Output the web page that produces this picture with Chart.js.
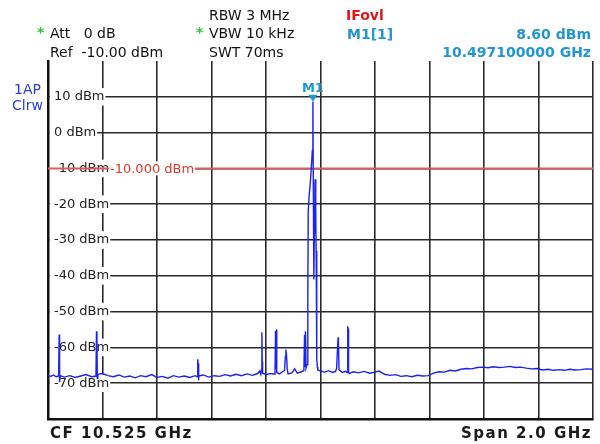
<!DOCTYPE html>
<html>
<head>
<meta charset="utf-8">
<title>Spectrum 10.525 GHz</title>
<script src="https://cdn.jsdelivr.net/npm/chart.js@4.4.1/dist/chart.umd.min.js"></script>
<style>
body{margin:0;background:#fff;}
canvas{display:block;}
</style>
</head>
<body>
<canvas id="spectrum" width="600" height="444"></canvas>
<script>
// trace 1 (Clrw): frequency in GHz, level in dBm
const traceFreq = [
	9.525, 9.535, 9.545, 9.555, 9.564, 9.566, 9.567, 9.568, 9.570, 9.585,
	9.605, 9.625, 9.645, 9.665, 9.685, 9.701, 9.703, 9.7045, 9.706, 9.708,
	9.725, 9.745, 9.765, 9.785, 9.805, 9.825, 9.845, 9.865, 9.885, 9.905,
	9.925, 9.945, 9.965, 9.985, 10.005, 10.025, 10.045, 10.065, 10.073, 10.0745,
	10.076, 10.077, 10.079, 10.095, 10.115, 10.135, 10.155, 10.175, 10.195, 10.215,
	10.235, 10.255, 10.275, 10.295, 10.302, 10.306, 10.309, 10.310, 10.3112, 10.3125,
	10.325, 10.340, 10.358, 10.360, 10.3615, 10.363, 10.3645, 10.375, 10.385, 10.393,
	10.396, 10.398, 10.400, 10.403, 10.406, 10.420, 10.430, 10.440, 10.455, 10.464,
	10.4665, 10.4678, 10.470, 10.4718, 10.4755, 10.4785, 10.480, 10.483, 10.4876, 10.492,
	10.495, 10.4971, 10.499, 10.5005, 10.5025, 10.5045, 10.506, 10.5075, 10.509, 10.5105,
	10.512, 10.5135, 10.515, 10.525, 10.540, 10.555, 10.570, 10.580,
	10.584, 10.587, 10.5895, 10.591, 10.593, 10.605, 10.617, 10.6235, 10.625, 10.6265,
	10.628, 10.630, 10.645, 10.665, 10.685, 10.705, 10.725, 10.740, 10.760, 10.780,
	10.800, 10.820, 10.840, 10.860, 10.880, 10.900, 10.920, 10.940, 10.960, 10.980,
	11.000, 11.020, 11.040, 11.060, 11.080, 11.100, 11.120, 11.140, 11.160, 11.180,
	11.200, 11.220, 11.240, 11.260, 11.280, 11.300, 11.320, 11.340, 11.360, 11.380,
	11.400, 11.420, 11.440, 11.460, 11.480, 11.500, 11.525
];
const traceLevel = [
	-67.8, -68.1, -67.7, -68.2, -68.0, -56.4, -62.0, -69.7, -67.9, -68.3,
	-67.9, -68.4, -68.0, -67.6, -68.2, -68.0, -55.5, -56.5, -68.6, -67.5,
	-67.3, -67.9, -68.2, -67.7, -68.3, -68.0, -68.5, -67.9, -68.2, -67.6,
	-68.4, -68.1, -68.6, -67.9, -68.3, -68.0, -68.4, -67.9, -68.2, -63.3,
	-64.5, -69.2, -68.0, -67.7, -68.3, -67.9, -68.1, -67.6, -68.0, -67.5,
	-67.9, -67.4, -67.8, -67.3, -66.6, -67.5, -66.0, -55.8, -64.0, -67.2,
	-67.6, -67.3, -67.5, -55.4, -66.0, -55.0, -67.0, -67.4, -66.8, -66.5,
	-62.5, -60.6, -62.0, -66.0, -67.4, -67.1, -66.0, -67.2, -66.8, -66.5,
	-56.5, -65.5, -55.5, -65.8, -64.8, -45.0, -22.0, -18.0, -14.0, -9.0,
	-5.0, 8.6, -20.0, -41.0, -28.0, -14.0, -13.0, -22.0, -33.0, -45.0,
	-63.0, -65.5, -66.3, -66.6, -66.9, -66.5, -67.0, -66.7,
	-66.0, -61.0, -57.2, -59.0, -66.2, -67.0, -66.7, -67.0, -54.1, -54.8,
	-66.8, -67.3, -66.8, -67.1, -66.7, -67.2, -66.9, -66.6, -67.5, -67.8,
	-67.6, -68.1, -67.9, -68.2, -67.8, -68.0, -67.9, -67.2, -66.8, -66.9,
	-66.4, -66.6, -66.1, -65.9, -66.0, -65.6, -65.5, -65.7, -65.4, -65.6,
	-65.5, -65.3, -65.6, -65.5, -65.8, -66.0, -65.9, -66.3, -66.1, -66.4,
	-66.2, -66.4, -66.1, -66.3, -66.2, -66.0, -66.1
];

// 10 divisions each way, CF 10.525 GHz / span 2 GHz, ref -10 dBm
const freqTicks = [9.525, 9.725, 9.925, 10.125, 10.325, 10.525, 10.725, 10.925, 11.125, 11.325, 11.525];
const levelTicks = [20, 10, 0, -10, -20, -30, -40, -50, -60, -70, -80];
const refLevel = -10;
const markerFreq = 10.4971;
const markerLevel = 8.60;

const FONT = '"DejaVu Sans", Verdana, sans-serif';
const markerBlue = '#2196d3';

// red reference level line, drawn before the trace
const refLinePlugin = {
	id: 'refLine',
	beforeDatasetsDraw(chart){
		let ctx = chart.ctx;
		let area = chart.chartArea;
		let y = chart.scales.y.getPixelForValue(refLevel);
		ctx.save();
		ctx.strokeStyle = '#d8605a';
		ctx.lineWidth = 2;
		ctx.beginPath();
		ctx.moveTo(area.left, y);
		ctx.lineTo(area.right, y);
		ctx.stroke();
		ctx.font = '13px ' + FONT;
		ctx.textBaseline = 'middle';
		let label = refLevel.toFixed(3) + ' dBm';
		let w = ctx.measureText(label).width;
		ctx.fillStyle = '#fff';
		ctx.fillRect(109, y - 7, w + 2, 14);
		ctx.fillStyle = '#e0352b';
		ctx.fillText(label, 110, y + 1);
		ctx.restore();
	}
};

// marker triangle M1 on the peak
const markerPlugin = {
	id: 'marker',
	afterDatasetsDraw(chart){
		let ctx = chart.ctx;
		let x = chart.scales.x.getPixelForValue(markerFreq);
		let y = chart.scales.y.getPixelForValue(markerLevel);
		ctx.save();
		ctx.fillStyle = markerBlue;
		ctx.beginPath();
		ctx.moveTo(x - 4.5, y - 7);
		ctx.lineTo(x + 4.5, y - 7);
		ctx.lineTo(x, y);
		ctx.closePath();
		ctx.fill();
		ctx.font = 'bold 13px ' + FONT;
		ctx.textAlign = 'center';
		ctx.fillText('M1', x, y - 10);
		ctx.restore();
	}
};

// instrument header and footer texts
const annotationPlugin = {
	id: 'annotations',
	afterDraw(chart){
		let ctx = chart.ctx;
		ctx.save();
		ctx.textBaseline = 'alphabetic';
		ctx.textAlign = 'left';

		ctx.font = '14px ' + FONT;
		ctx.fillStyle = '#111';
		ctx.fillText('Att   0 dB', 50, 38);
		ctx.fillText('Ref  -10.00 dBm', 50, 57);
		ctx.fillText('RBW 3 MHz', 209, 20);
		ctx.fillText('VBW 10 kHz', 209, 38);
		ctx.fillText('SWT 70ms', 209, 57);

		ctx.font = 'bold 14px ' + FONT;
		ctx.fillStyle = '#2fc23a';
		ctx.fillText('*', 37, 37);
		ctx.fillText('*', 196, 37);

		ctx.fillStyle = '#e0161b';
		ctx.fillText('IFovl', 346, 20);

		ctx.fillStyle = markerBlue;
		ctx.fillText('M1[1]', 347, 39);
		ctx.textAlign = 'right';
		ctx.fillText(markerLevel.toFixed(2) + ' dBm', 591, 39);
		ctx.fillText(markerFreq.toFixed(9) + ' GHz', 591, 57);

		ctx.textAlign = 'left';
		ctx.font = '14px ' + FONT;
		ctx.fillStyle = '#2a3bd6';
		ctx.fillText('1AP', 14, 94);
		ctx.fillText('Clrw', 12, 110);

		ctx.font = 'bold 15px ' + FONT;
		ctx.fillStyle = '#1a1a1a';
		ctx.letterSpacing = '1.5px';
		ctx.fillText('CF 10.525 GHz', 50, 438);
		ctx.textAlign = 'right';
		ctx.fillText('Span 2.0 GHz', 592, 438);
		ctx.restore();
	}
};

document.addEventListener('DOMContentLoaded', () => {
	let ctx = document.querySelector('#spectrum').getContext('2d');
	let points = traceFreq.map((f, i) => ({x: f, y: traceLevel[i]}));

	new Chart(ctx, {
		type: 'line',
		data: {
			datasets: [{
				label: 'Trace 1',
				data: points,
				borderColor: '#1c22f0',
				borderWidth: 1.4,
				pointRadius: 0,
				tension: 0,
				fill: false
			}]
		},
		options: {
			responsive: false,
			animation: false,
			events: [],
			// the y scale still keeps ~12px for itself, so the plot box lands on 48..593 x 61..419
			layout: {padding: {left: 36, top: 61, right: 7, bottom: 25}},
			plugins: {legend: {display: false}, tooltip: {enabled: false}},
			scales: {
				x: {
					type: 'linear',
					min: freqTicks[0],
					max: freqTicks[freqTicks.length - 1],
					afterBuildTicks: scale => { scale.ticks = freqTicks.map(v => ({value: v})); },
					ticks: {display: false},
					grid: {color: '#2a2a2a', lineWidth: 1.6, drawTicks: false},
					border: {color: '#111', width: 2.5}
				},
				y: {
					min: levelTicks[levelTicks.length - 1],
					max: levelTicks[0],
					afterBuildTicks: scale => { scale.ticks = levelTicks.map(v => ({value: v})); },
					ticks: {
						mirror: true,
						padding: 6,
						color: '#222',
						font: {family: FONT, size: 13},
						showLabelBackdrop: true,
						backdropColor: '#fff',
						backdropPadding: {left: 4, right: 1, top: 1, bottom: 1},
						callback: v => (v === 20 || v === -80) ? null : v + ' dBm'
					},
					grid: {color: '#2a2a2a', lineWidth: 1.6, drawTicks: false},
					border: {color: '#111', width: 2.5}
				}
			}
		},
		plugins: [refLinePlugin, markerPlugin, annotationPlugin]
	});
});
</script>
</body>
</html>
